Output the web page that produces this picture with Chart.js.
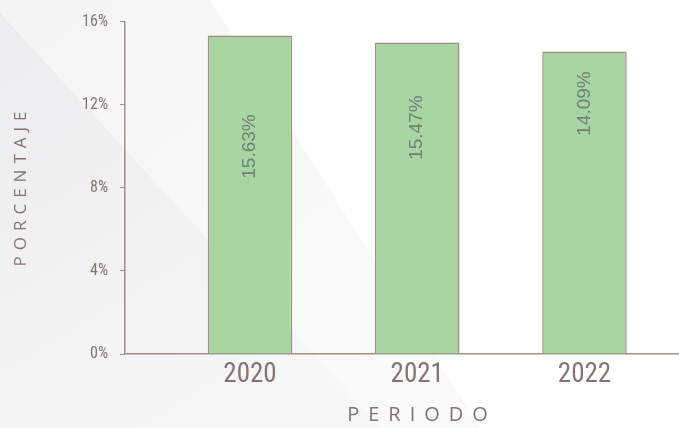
<!DOCTYPE html>
<html>
<head>
<meta charset="utf-8">
<script src="https://cdn.jsdelivr.net/npm/chart.js@4"></script>
<style>
  body { margin: 0; background: #fff; }
  #wrap { width: 679px; height: 428px; }
</style>
</head>
<body>
<div id="wrap"><canvas id="periodChart" width="679" height="428"></canvas></div>
<script>
// data
var years = [2020, 2021, 2022];
var barValues = [15.33, 14.99, 14.56];
var barLabels = ['15.63%', '15.47%', '14.09%'];
var yTicks = [0, 4, 8, 12, 16];

var axisColor = '#a08e8b';
var textColor = '#857370';
var tickFont = "'Roboto Condensed', 'Liberation Sans', sans-serif";

// label placement below each bar top (px)
var labelShift = [111, 85, 52];

var backdrop = {
    id: 'backdrop',
    beforeDraw: function (chart) {
        var c = chart.ctx;
        c.save();
        c.fillStyle = '#ffffff';
        c.fillRect(0, 0, chart.width, chart.height);
        var g = c.createLinearGradient(0, 0, 300, 428);
        g.addColorStop(0, '#f5f5f6');
        g.addColorStop(1, '#fafafb');
        c.fillStyle = g;
        c.beginPath();
        c.moveTo(0, 0); c.lineTo(210, 0); c.lineTo(480, 428); c.lineTo(0, 428);
        c.closePath(); c.fill();
        var g2 = c.createLinearGradient(0, 20, 250, 428);
        g2.addColorStop(0, '#ececee');
        g2.addColorStop(1, '#f7f7f8');
        c.fillStyle = g2;
        c.beginPath();
        c.moveTo(0, 13); c.lineTo(381, 428); c.lineTo(0, 428);
        c.closePath(); c.fill();
        c.restore();
    }
};

var extras = {
    id: 'extras',
    afterDatasetsDraw: function (chart) {
        var c = chart.ctx;
        var bars = chart.getDatasetMeta(0).data;
        c.save();
        c.fillStyle = '#72807a';
        c.font = "19px 'Liberation Sans', sans-serif";
        c.textAlign = 'center';
        c.textBaseline = 'middle';
        bars.forEach(function (bar, i) {
            c.save();
            c.translate(bar.x, bar.y + labelShift[i]);
            c.rotate(-Math.PI / 2);
            c.fillText(barLabels[i], 0, 0);
            c.restore();
        });
        c.restore();
    },
    afterDraw: function (chart) {
        var c = chart.ctx;
        c.save();
        c.fillStyle = textColor;
        c.textAlign = 'center';
        c.textBaseline = 'middle';
        c.font = "20px 'Open Sans', sans-serif";
        c.letterSpacing = '9px';
        c.fillText('PERIODO', 422, 415);
        c.font = "17px 'Open Sans', sans-serif";
        c.letterSpacing = '6px';
        c.translate(21, 189);
        c.rotate(-Math.PI / 2);
        c.fillText('PORCENTAJE', 3, 0);
        c.restore();
    }
};

var ctx = document.getElementById('periodChart').getContext('2d');
var periodChart = new Chart(ctx, {
    type: 'bar',
    data: {
        datasets: [{
            data: years.map(function (y, i) { return { x: y, y: barValues[i] }; }),
            backgroundColor: '#a8d5a2',
            borderColor: '#9c917f',
            borderWidth: 1.5,
            borderSkipped: 'bottom',
            barPercentage: 0.505,
            categoryPercentage: 1
        }]
    },
    options: {
        responsive: false,
        animation: false,
        layout: { padding: { top: 20, right: 0, left: 0, bottom: 0 } },
        plugins: { legend: { display: false }, tooltip: { enabled: false } },
        scales: {
            x: {
                type: 'linear',
                offset: false,
                min: 2019.2526,
                max: 2022.565,
                afterBuildTicks: function (scale) {
                    scale.ticks = years.map(function (v) { return { value: v }; });
                },
                afterFit: function (scale) { scale.height = 74; },
                grid: { display: false },
                border: { display: true, color: axisColor, width: 1.5 },
                ticks: {
                    color: textColor,
                    padding: -3,
                    maxRotation: 0,
                    font: { family: tickFont, size: 27 },
                    callback: function (v) { return String(v); }
                }
            },
            y: {
                min: 0,
                max: 16,
                afterBuildTicks: function (scale) {
                    scale.ticks = yTicks.map(function (v) { return { value: v }; });
                },
                afterFit: function (scale) { scale.width = 125; },
                grid: {
                    drawOnChartArea: false,
                    drawTicks: true,
                    tickLength: 5,
                    color: axisColor
                },
                border: { display: true, color: axisColor, width: 1.5 },
                ticks: {
                    color: textColor,
                    padding: 12,
                    font: { family: tickFont, size: 16 },
                    callback: function (v) { return v + '%'; }
                }
            }
        }
    },
    plugins: [backdrop, extras]
});
</script>
</body>
</html>
